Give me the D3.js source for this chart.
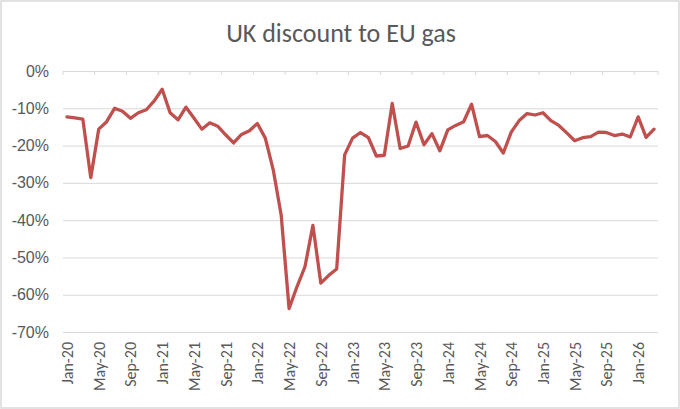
<!DOCTYPE html>
<html>
<head>
<meta charset="utf-8">
<script src="https://cdn.jsdelivr.net/npm/d3@7"></script>
<style>
  body { margin: 0; background: #fff; }
  svg { display: block; font-family: Calibri, Carlito, "Liberation Sans", sans-serif; }
</style>
</head>
<body>
<div id="chart"></div>
<script>
const WIDTH = 680;
const HEIGHT = 409;

// monthly categories Jan-20 .. Mar-26
const months = [
  "Jan-20","Feb-20","Mar-20","Apr-20","May-20","Jun-20","Jul-20","Aug-20","Sep-20","Oct-20","Nov-20","Dec-20",
  "Jan-21","Feb-21","Mar-21","Apr-21","May-21","Jun-21","Jul-21","Aug-21","Sep-21","Oct-21","Nov-21","Dec-21",
  "Jan-22","Feb-22","Mar-22","Apr-22","May-22","Jun-22","Jul-22","Aug-22","Sep-22","Oct-22","Nov-22","Dec-22",
  "Jan-23","Feb-23","Mar-23","Apr-23","May-23","Jun-23","Jul-23","Aug-23","Sep-23","Oct-23","Nov-23","Dec-23",
  "Jan-24","Feb-24","Mar-24","Apr-24","May-24","Jun-24","Jul-24","Aug-24","Sep-24","Oct-24","Nov-24","Dec-24",
  "Jan-25","Feb-25","Mar-25","Apr-25","May-25","Jun-25","Jul-25","Aug-25","Sep-25","Oct-25","Nov-25","Dec-25",
  "Jan-26","Feb-26","Mar-26"
];

// UK discount to EU gas, %
const discount = [
  -12.3, -12.6, -12.9, -28.6, -15.6, -13.6, -10.0, -10.8, -12.7, -11.2, -10.4, -8.0,
  -4.9, -11.2, -13.1, -9.7, -12.6, -15.6, -13.9, -14.8, -17.1, -19.3, -17.0, -16.0,
  -14.1, -18.0, -26.5, -38.6, -63.7, -57.8, -52.5, -41.4, -56.9, -54.8, -53.1, -22.5,
  -18.0, -16.5, -17.9, -22.8, -22.6, -8.7, -20.8, -20.1, -13.7, -19.8, -16.8, -21.4,
  -15.8, -14.6, -13.6, -8.9, -17.6, -17.3, -18.9, -22.0, -16.4, -13.3, -11.4, -11.8,
  -11.2, -13.3, -14.6, -16.6, -18.7, -17.9, -17.6, -16.4, -16.5, -17.3, -16.9, -17.7,
  -12.3, -17.8, -15.6
];

const yTicks = [0, -10, -20, -30, -40, -50, -60, -70];

const margin = {left: 63, right: 22, top: 71, bottom: 77};

const svg = d3.select("#chart")
  .append("svg")
  .attr("width", WIDTH)
  .attr("height", HEIGHT);

svg.append("rect")
  .attr("x", 1).attr("y", 1)
  .attr("width", WIDTH - 2).attr("height", HEIGHT - 2)
  .attr("fill", "#fff")
  .attr("stroke", "#d9d9d9")
  .attr("stroke-width", 1.5);

const x = d3.scaleBand()
  .domain(d3.range(months.length))
  .range([margin.left, WIDTH - margin.right])
  .padding(0);

const y = d3.scaleLinear()
  .domain([-70, 0])
  .range([HEIGHT - margin.bottom, margin.top]);

// gridlines + y labels
const yAxis = svg.append("g")
  .attr("transform", `translate(${margin.left},0)`)
  .call(d3.axisLeft(y)
    .tickValues(yTicks)
    .tickSize(-(WIDTH - margin.left - margin.right))
    .tickPadding(14)
    .tickFormat(d => d + "%"));

yAxis.select(".domain").remove();
yAxis.selectAll(".tick line").attr("stroke", "#d9d9d9").attr("stroke-width", 1);
yAxis.selectAll(".tick text")
  .attr("fill", "#595959")
  .style("font-size", "16px");

// category axis sits on the 0% line, tick marks every 4 months
const every4 = d3.range(0, months.length, 4);

svg.append("g")
  .selectAll("line")
  .data(every4.concat([months.length]))
  .join("line")
  .attr("x1", d => d < months.length ? x(d) : x.range()[1])
  .attr("x2", d => d < months.length ? x(d) : x.range()[1])
  .attr("y1", y(0))
  .attr("y2", y(0) + 4)
  .attr("stroke", "#d9d9d9");

svg.append("g")
  .selectAll("text")
  .data(every4)
  .join("text")
  .attr("transform", d => `translate(${x(d) + x.bandwidth() / 2 + 6}, ${HEIGHT - margin.bottom + 10}) rotate(-90)`)
  .attr("text-anchor", "end")
  .attr("fill", "#595959")
  .style("font-size", "16px")
  .text(d => months[d]);

// series line
const line = d3.line()
  .x((d, i) => x(i) + x.bandwidth() / 2)
  .y(d => y(d));

svg.append("path")
  .datum(discount)
  .attr("d", line)
  .attr("fill", "none")
  .attr("stroke", "#c0504d")
  .attr("stroke-width", 3.3)
  .attr("stroke-linejoin", "round")
  .attr("stroke-linecap", "round");

// title
svg.append("text")
  .attr("x", WIDTH / 2 + 1)
  .attr("y", 42)
  .attr("text-anchor", "middle")
  .attr("fill", "#595959")
  .style("font-size", "26px")
  .text("UK discount to EU gas");
</script>
</body>
</html>
